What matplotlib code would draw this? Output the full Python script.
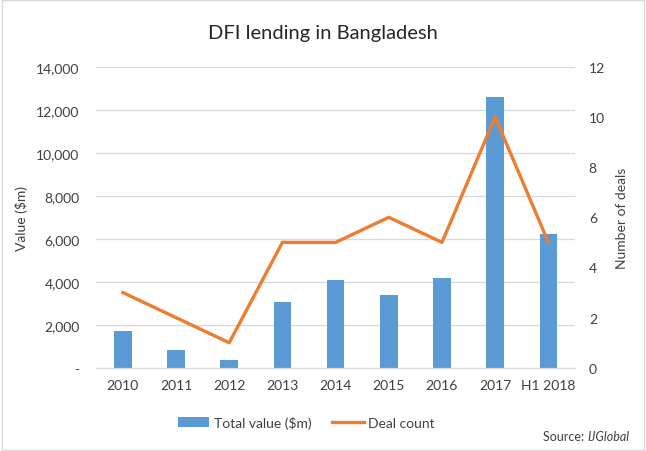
import matplotlib
matplotlib.use("Agg")
import matplotlib.pyplot as plt
from matplotlib.ticker import FuncFormatter
from matplotlib.patches import Rectangle

categories = ["2010", "2011", "2012", "2013", "2014", "2015", "2016", "2017", "H1 2018"]
total_value = [1720, 840, 370, 3070, 4090, 3400, 4190, 12600, 6230]
deal_count = [3, 2, 1, 5, 5, 6, 5, 10, 5]

plt.rcParams['font.family'] = ['Lato', 'DejaVu Sans']
txt = '#404040'

fig = plt.figure(figsize=(6.46, 4.52), dpi=100)
fig.patches.append(Rectangle((0.003, 0.003), 0.994, 0.994, transform=fig.transFigure,
                             fill=False, edgecolor='#d9d9d9', linewidth=1))
ax = fig.add_axes([0.149, 0.184, 0.741, 0.666])
ax2 = ax.twinx()

x = list(range(len(categories)))
bars = ax.bar(x, total_value, width=0.33, color='#5B9BD5', label='Total value ($m)', zorder=2)
line, = ax2.plot(x, deal_count, color='#ED7D31', linewidth=2.4, label='Deal count', zorder=3)

ax.set_ylim(0, 14000)
ax.set_yticks(range(0, 14001, 2000))
ax.yaxis.set_major_formatter(FuncFormatter(lambda v, p: '-' if v == 0 else f'{int(v):,}'))
ax2.set_ylim(0, 12)
ax2.set_yticks(range(0, 13, 2))
ax.set_xlim(-0.5, len(categories) - 0.5)
ax.set_xticks(x)
ax.set_xticklabels(categories)

ax.grid(axis='y', color='#d9d9d9', linewidth=0.9, zorder=0)
ax.set_axisbelow(True)
for a in (ax, ax2):
    for s in ('top', 'left', 'right'):
        a.spines[s].set_visible(False)
    a.spines['bottom'].set_color('#d9d9d9')
    a.tick_params(length=0, labelsize=10, colors=txt)
ax.tick_params(axis='y', pad=12)
ax2.tick_params(axis='y', pad=10)
ax.tick_params(axis='x', pad=8)

ax.set_ylabel('Value ($m)', fontsize=10, color=txt, labelpad=6)
ax2.set_ylabel('Number of deals', fontsize=10, color=txt, labelpad=8)

fig.text(0.5, 0.925, 'DFI lending in Bangladesh', ha='center', va='center', fontsize=14.5, color='#262626')

fig.legend(handles=[bars, line], labels=['Total value ($m)', 'Deal count'],
           loc='center', bbox_to_anchor=(0.474, 0.064), ncol=2, frameon=False,
           fontsize=10, handlelength=2.3, columnspacing=1.5, handletextpad=0.3,
           labelcolor=txt)

t_ij = fig.text(0.975, 0.033, 'IJGlobal', ha='right', va='center', fontsize=9, color=txt, style='italic')
fig.canvas.draw()
bb = t_ij.get_window_extent()
fig.text(bb.x0 / fig.bbox.width, 0.033, 'Source: ', ha='right', va='center', fontsize=9, color=txt)

fig.savefig('out.png', dpi=100)
